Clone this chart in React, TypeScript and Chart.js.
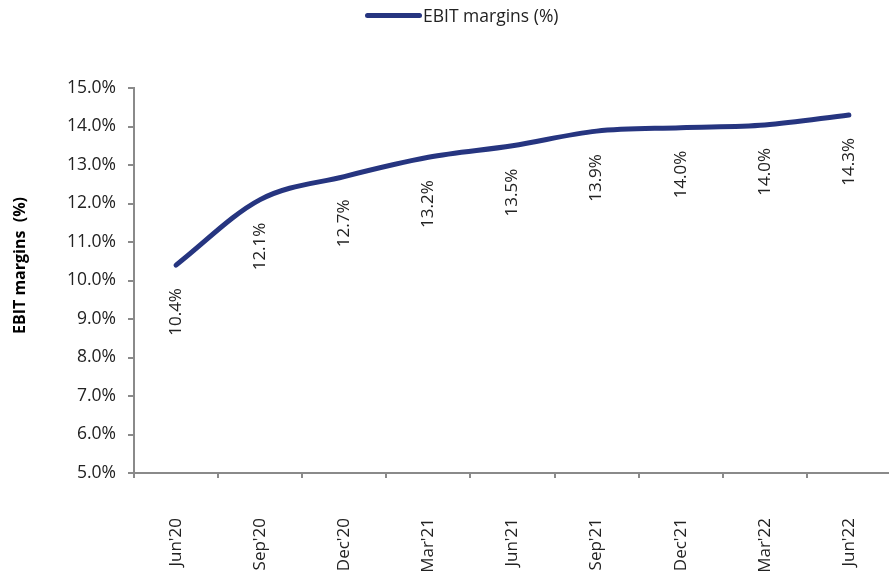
import React, { useEffect, useRef } from "react";
import { Chart, registerables } from "chart.js";

Chart.register(...registerables);

const categories = ["Jun'20", "Sep'20", "Dec'20", "Mar'21", "Jun'21", "Sep'21", "Dec'21", "Mar'22", "Jun'22"];
const ebitMargins = [10.4, 12.1, 12.7, 13.2, 13.5, 13.88, 13.97, 14.04, 14.3];
const yMin = 5;
const yMax = 15;
const yStep = 1;
const seriesName = "EBIT margins (%)";
const yTitle = "EBIT margins  (%)";

const LINE_COLOR = "#263580";
const TEXT_COLOR = "#222222";
const AXIS_COLOR = "#8a8a8a";
const FONT = "'Open Sans', 'Noto Sans', sans-serif";

const dataLabelPlugin = {
  id: "rotatedDataLabels",
  afterDatasetsDraw(chart: any) {
    const ctx = chart.ctx;
    const meta = chart.getDatasetMeta(0);
    const ds = chart.data.datasets[0];
    ctx.save();
    ctx.fillStyle = TEXT_COLOR;
    ctx.font = `17px ${FONT}`;
    ctx.textAlign = "right";
    ctx.textBaseline = "middle";
    meta.data.forEach((pt: any, i: number) => {
      const v = ds.data[i] as number;
      ctx.save();
      ctx.translate(pt.x, pt.y + 23);
      ctx.rotate(-Math.PI / 2);
      ctx.fillText(v.toFixed(1) + "%", 0, 0);
      ctx.restore();
    });
    ctx.restore();
  },
};

const yTitlePlugin = {
  id: "yTitle",
  afterDraw(chart: any) {
    const ctx = chart.ctx;
    const area = chart.chartArea;
    ctx.save();
    ctx.fillStyle = "#000000";
    ctx.font = `bold 16px ${FONT}`;
    ctx.textAlign = "center";
    ctx.textBaseline = "middle";
    ctx.translate(20, (area.top + area.bottom) / 2 - 15);
    ctx.rotate(-Math.PI / 2);
    ctx.fillText(yTitle, 0, 0);
    ctx.restore();
  },
};

export default function App() {
  const ref = useRef<HTMLCanvasElement | null>(null);
  useEffect(() => {
    if (!ref.current) return;
    const chart = new Chart(ref.current, {
      type: "line",
      data: {
        labels: categories,
        datasets: [
          {
            label: seriesName,
            data: ebitMargins,
            borderColor: LINE_COLOR,
            backgroundColor: LINE_COLOR,
            borderWidth: 5,
            borderCapStyle: "round",
            pointRadius: 0,
            cubicInterpolationMode: "monotone",
          },
        ],
      },
      options: {
        responsive: false,
        animation: false,
        layout: { padding: { top: 88, right: 13, bottom: 0, left: 0 } },
        plugins: {
          legend: { display: false },
          tooltip: { enabled: false },
        },
        scales: {
          x: {
            offset: true,
            grid: {
              offset: true,
              drawOnChartArea: false,
              drawTicks: true,
              tickLength: 5,
              color: AXIS_COLOR,
              lineWidth: 2,
            },
            border: { color: AXIS_COLOR, width: 2 },
            ticks: {
              minRotation: 90,
              maxRotation: 90,
              padding: 40,
              color: TEXT_COLOR,
              font: { family: FONT, size: 17 },
            },
            afterFit(scale: any) {
              scale.height = 102;
            },
          },
          y: {
            min: yMin,
            max: yMax,
            grid: {
              drawOnChartArea: false,
              drawTicks: true,
              tickLength: 6,
              color: AXIS_COLOR,
              lineWidth: 2,
            },
            border: { color: AXIS_COLOR, width: 2 },
            ticks: {
              stepSize: yStep,
              padding: 12,
              color: TEXT_COLOR,
              font: { family: FONT, size: 17.5 },
              callback: (v: any) => Number(v).toFixed(1) + "%",
            },
            title: { display: false },
            afterFit(scale: any) {
              scale.width = 134;
            },
          },
        },
      },
      plugins: [dataLabelPlugin, yTitlePlugin],
    });
    return () => chart.destroy();
  }, []);

  return (
    <div style={{ position: "absolute", left: 0, top: 0, width: 889, height: 575, overflow: "hidden", background: "#fff" }}>
      <div
        style={{
          position: "absolute",
          left: 365,
          top: 3,
          display: "flex",
          alignItems: "center",
          fontFamily: FONT,
          fontSize: 17.5,
          color: TEXT_COLOR,
          whiteSpace: "nowrap",
        }}
      >
        <span style={{ display: "inline-block", width: 57, height: 5, borderRadius: 3, background: LINE_COLOR, marginRight: 1 }} />
        <span>{seriesName}</span>
      </div>
      <canvas ref={ref} width={910} height={575} style={{ display: "block", width: 910, height: 575 }} />
    </div>
  );
}
